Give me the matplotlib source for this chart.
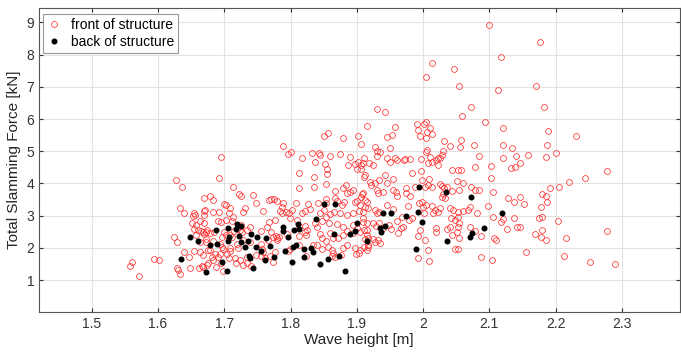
import matplotlib
matplotlib.use("Agg")
import matplotlib.pyplot as plt

plt.rcParams['font.family'] = ['Liberation Sans', 'DejaVu Sans']

# front of structure (wave height [m], total slamming force [kN])
front_h = [
    1.695, 1.789, 1.796, 1.801, 1.818, 1.833, 1.843, 1.844, 1.850, 1.856,
    1.859, 1.874, 1.879, 1.890, 1.902, 1.907, 1.911, 1.916, 2.100, 2.117,
    2.014, 2.047, 2.004, 2.055, 2.113, 1.930, 1.943, 2.072, 2.059, 1.958,
    1.991, 2.005, 2.002, 1.993, 2.010, 2.006, 1.995, 2.013, 2.005, 2.093,
    2.121, 1.953, 1.946, 1.928, 1.931, 1.930, 1.950, 1.935, 2.031, 2.058,
    2.041, 2.056, 2.077, 2.120, 2.134, 2.006, 2.004, 2.030, 2.028, 2.023,
    2.010, 2.084, 2.120, 2.140, 2.159, 1.945, 1.957, 1.973, 1.980, 2.177,
    2.170, 2.183, 2.188, 2.231, 2.187, 2.186, 2.201, 2.146, 2.278, 2.245,
    2.221, 2.205, 2.191, 2.147, 2.179, 2.186, 2.187, 2.152, 2.178, 2.175,
    2.179, 2.203, 2.147, 2.180, 2.278, 2.169, 2.178, 2.185, 2.216, 2.155,
    2.212, 2.252, 2.290, 1.627, 1.637, 1.670, 1.633, 1.640, 1.654, 1.656,
    1.653, 1.671, 1.669, 1.652, 1.658, 1.655, 1.660, 1.668, 1.672, 1.674,
    1.624, 1.628, 1.658, 1.673, 1.640, 1.647, 1.655, 1.676, 1.561, 1.558,
    1.594, 1.602, 1.571, 1.629, 1.630, 1.633, 1.648, 1.662, 1.667, 1.676,
    1.887, 1.898, 1.902, 1.907, 1.900, 1.907, 1.837, 1.852, 1.855, 1.855,
    1.813, 1.692, 1.836, 1.911, 1.713, 1.813, 1.836, 1.854, 1.884, 1.879,
    1.867, 1.885, 1.890, 1.894, 1.908, 1.678, 1.683, 1.699, 1.702, 1.723,
    1.725, 1.748, 1.744, 1.770, 1.775, 1.780, 1.767, 1.788, 1.787, 1.808,
    1.827, 1.841, 1.854, 1.854, 1.867, 1.870, 1.881, 1.877, 1.898, 1.901,
    1.912, 1.670, 1.683, 1.692, 1.709, 1.707, 1.732, 1.729, 1.759, 1.784,
    1.787, 1.793, 1.798, 1.802, 1.817, 1.822, 1.830, 1.844, 1.850, 1.860,
    1.866, 1.874, 1.885, 1.895, 1.903, 1.910, 1.910, 1.663, 1.669, 1.691,
    1.695, 1.702, 1.713, 1.711, 1.725, 1.721, 1.739, 1.735, 1.768, 1.765,
    1.776, 1.799, 1.810, 1.813, 1.822, 1.825, 1.837, 1.840, 1.848, 1.853,
    1.858, 1.870, 1.879, 1.894, 1.901, 1.911, 1.665, 1.669, 1.679, 1.685,
    1.700, 1.697, 1.703, 1.709, 1.712, 1.715, 1.724, 1.727, 1.756, 1.771,
    1.778, 1.780, 1.794, 1.813, 1.822, 1.824, 1.844, 1.847, 1.853, 1.859,
    1.864, 1.871, 1.879, 1.886, 1.894, 1.905, 1.915, 1.663, 1.673, 1.683,
    1.694, 1.697, 1.698, 1.709, 1.708, 1.720, 1.721, 1.729, 1.739, 1.755,
    1.757, 1.759, 1.766, 1.774, 1.782, 1.779, 1.813, 1.834, 1.840, 1.847,
    1.857, 1.864, 1.863, 1.879, 1.885, 1.897, 1.905, 1.911, 1.663, 1.668,
    1.678, 1.681, 1.686, 1.690, 1.694, 1.704, 1.707, 1.716, 1.724, 1.734,
    1.748, 1.755, 1.761, 1.769, 1.776, 1.796, 1.799, 1.823, 1.862, 1.867,
    1.876, 1.899, 1.903, 1.915, 1.917, 1.668, 1.674, 1.683, 1.687, 1.695,
    1.698, 1.718, 1.729, 1.735, 1.740, 1.774, 1.910, 1.919, 1.925, 1.950,
    1.960, 1.971, 1.997, 2.013, 2.020, 2.025, 2.023, 2.008, 1.984, 1.997,
    1.912, 1.942, 1.955, 1.945, 1.934, 1.927, 1.920, 1.922, 1.930, 1.932,
    1.909, 1.916, 1.940, 1.955, 1.959, 1.961, 1.974, 1.975, 1.980, 1.988,
    1.998, 2.009, 2.003, 2.008, 2.013, 2.025, 2.028, 2.032, 2.036, 2.028,
    2.033, 2.030, 2.043, 2.052, 2.058, 2.078, 2.051, 2.060, 2.054, 2.073,
    2.078, 2.085, 2.043, 2.103, 2.139, 2.132, 2.103, 2.106, 2.128, 2.138,
    2.098, 1.907, 1.905, 1.912, 1.917, 1.927, 1.930, 1.934, 1.945, 1.955,
    1.960, 1.968, 1.979, 1.984, 1.978, 1.994, 1.998, 2.000, 2.005, 2.014,
    2.018, 2.023, 2.025, 2.015, 2.001, 2.040, 2.045, 2.053, 2.060, 2.068,
    2.071, 2.082, 2.042, 2.048, 2.052, 2.054, 2.052, 2.106, 2.120, 2.118,
    2.137, 2.127, 2.142, 1.910, 1.915, 1.925, 1.929, 1.934, 1.940, 1.952,
    1.949, 1.962, 1.966, 1.970, 1.993, 1.995, 2.019, 2.020, 2.036, 2.040,
    2.043, 2.054, 2.051, 2.071, 2.078, 2.087, 2.107, 2.110, 1.915, 1.912,
    1.917, 1.925, 1.927, 1.932, 1.935, 1.917, 2.008, 2.048, 2.052, 1.992,
    2.009, 2.088, 2.104, 2.003,
]
front_f = [
    4.83, 5.17, 4.92, 4.97, 4.80, 4.94, 4.94, 4.87, 5.48, 5.56,
    4.84, 4.92, 5.42, 4.81, 5.48, 5.22, 4.78, 5.77, 8.93, 7.94,
    7.75, 7.55, 7.31, 7.03, 6.91, 6.32, 6.22, 6.37, 6.10, 5.75,
    5.85, 5.92, 5.85, 5.67, 5.71, 5.61, 5.48, 5.54, 5.42, 5.90,
    5.72, 5.51, 5.44, 5.14, 5.02, 4.86, 5.09, 4.98, 5.31, 5.34,
    5.16, 5.13, 5.20, 5.20, 5.09, 5.05, 4.98, 5.01, 4.87, 4.79,
    4.82, 4.86, 4.79, 4.86, 4.89, 4.79, 4.79, 4.77, 4.75, 8.38,
    7.03, 6.36, 5.62, 5.48, 5.18, 4.83, 4.94, 4.64, 4.38, 4.16,
    4.03, 3.88, 3.85, 3.59, 3.67, 3.60, 3.41, 3.35, 3.28, 2.92,
    2.97, 2.83, 2.65, 2.55, 2.52, 2.43, 2.34, 2.24, 2.30, 1.88,
    1.74, 1.56, 1.51, 4.12, 3.89, 3.56, 3.24, 3.08, 3.08, 3.02,
    2.98, 3.17, 3.01, 2.76, 2.71, 2.59, 2.55, 2.48, 2.50, 2.55,
    2.33, 2.19, 2.40, 2.19, 1.86, 1.70, 1.91, 1.93, 1.57, 1.44,
    1.65, 1.63, 1.13, 1.38, 1.32, 1.18, 1.36, 1.38, 1.43, 1.52,
    4.57, 4.60, 4.66, 4.57, 4.46, 4.44, 4.66, 4.59, 4.44, 4.28,
    4.31, 4.17, 4.21, 4.21, 3.89, 3.87, 3.90, 3.97, 3.95, 3.85,
    3.77, 3.69, 3.74, 3.80, 3.66, 3.61, 3.48, 3.35, 3.33, 3.66,
    3.62, 3.38, 3.65, 3.52, 3.52, 3.46, 3.48, 3.38, 3.28, 3.40,
    3.35, 3.38, 3.51, 3.40, 3.56, 3.44, 3.43, 3.33, 3.41, 3.46,
    3.48, 3.14, 3.12, 3.11, 3.23, 3.09, 3.23, 3.10, 3.14, 3.15,
    3.07, 3.12, 3.07, 3.17, 3.09, 3.15, 3.20, 3.07, 3.17, 3.05,
    3.11, 3.07, 3.02, 3.07, 3.15, 3.12, 2.92, 2.83, 2.76, 2.83,
    2.81, 2.86, 2.95, 2.84, 2.71, 2.66, 2.65, 2.56, 2.79, 2.66,
    2.86, 2.92, 2.86, 2.68, 2.68, 2.56, 2.76, 2.64, 2.83, 2.97,
    2.76, 2.74, 2.64, 2.71, 2.61, 2.55, 2.51, 2.43, 2.45, 2.50,
    2.49, 2.33, 2.40, 2.40, 2.33, 2.53, 2.55, 2.49, 2.51, 2.49,
    2.37, 2.30, 2.44, 2.38, 2.50, 2.40, 2.43, 2.30, 2.22, 2.47,
    2.30, 2.30, 2.40, 2.52, 2.46, 2.48, 2.55, 2.19, 2.26, 2.22,
    2.12, 2.03, 1.97, 2.00, 1.91, 2.12, 1.98, 2.24, 2.19, 2.12,
    1.97, 1.86, 2.24, 2.33, 2.34, 2.24, 2.09, 2.08, 2.09, 1.95,
    2.03, 1.83, 1.93, 1.98, 2.09, 1.98, 1.93, 2.02, 1.88, 1.77,
    1.93, 1.70, 1.81, 1.72, 1.81, 1.81, 1.67, 1.69, 1.62, 1.70,
    1.78, 1.75, 1.67, 1.75, 1.88, 1.90, 1.96, 1.75, 1.75, 1.70,
    1.78, 1.80, 1.85, 1.93, 2.03, 1.41, 1.47, 1.62, 1.39, 1.52,
    1.29, 1.52, 1.47, 1.54, 1.44, 1.57, 4.64, 4.64, 4.57, 4.67,
    4.73, 4.73, 4.75, 4.67, 4.73, 4.78, 4.57, 4.62, 4.33, 4.39,
    4.26, 4.26, 4.13, 4.00, 4.11, 4.00, 4.05, 3.95, 3.80, 3.71,
    3.69, 3.43, 3.74, 3.80, 3.72, 3.62, 3.85, 3.69, 3.62, 3.90,
    4.11, 4.13, 3.90, 3.95, 3.90, 3.98, 3.92, 3.87, 3.90, 3.59,
    3.54, 3.66, 4.42, 4.42, 4.42, 4.50, 4.08, 4.00, 3.80, 3.88,
    3.80, 3.80, 3.76, 4.54, 4.52, 4.49, 4.16, 3.72, 3.56, 3.43,
    3.30, 3.59, 3.33, 3.28, 3.23, 3.17, 3.07, 3.12, 3.33, 3.20,
    2.84, 2.97, 2.86, 2.92, 3.31, 3.38, 3.43, 3.28, 3.33, 3.30,
    3.17, 3.12, 3.23, 3.07, 3.07, 3.25, 3.17, 3.12, 3.14, 3.17,
    3.28, 3.07, 2.92, 2.86, 2.97, 2.76, 2.66, 2.97, 2.89, 2.81,
    2.93, 2.57, 2.64, 2.81, 2.76, 2.76, 2.68, 2.76, 2.61, 2.58,
    2.71, 2.45, 2.61, 2.66, 2.37, 2.55, 2.61, 2.50, 2.58, 2.64,
    2.40, 2.30, 2.50, 2.64, 2.51, 2.37, 2.30, 2.24, 2.40, 2.26,
    2.30, 2.26, 2.19, 2.24, 2.16, 2.09, 1.93, 1.96, 1.96, 1.69,
    1.59, 1.72, 1.62, 2.24,
]

# back of structure
back_h = [
    1.648, 1.661, 1.634, 1.672, 1.678, 1.687, 1.689, 1.697, 1.704, 1.707,
    1.706, 1.706, 1.717, 1.720, 1.726, 1.722, 1.726, 1.731, 1.736, 1.740,
    1.750, 1.738, 1.739, 1.744, 1.748, 1.756, 1.763, 1.769, 1.761, 1.775,
    1.789, 1.789, 1.796, 1.792, 1.804, 1.809, 1.803, 1.811, 1.813, 1.806,
    1.820, 1.831, 1.834, 1.820, 1.838, 1.844, 1.851, 1.867, 1.857, 1.866,
    1.873, 1.882, 1.890, 1.897, 1.901, 1.916, 1.935, 1.936, 1.942, 1.940,
    1.952, 1.974, 1.992, 1.999, 1.994, 1.989, 2.035, 2.036, 2.072, 2.071,
    2.074, 2.092, 2.119,
]
back_f = [
    2.33, 2.20, 1.66, 1.26, 2.09, 2.55, 2.11, 1.57, 1.28, 2.34,
    2.21, 2.61, 2.57, 2.74, 2.69, 2.37, 2.18, 2.02, 2.22, 2.43,
    2.33, 1.75, 1.67, 1.36, 2.02, 1.91, 2.30, 2.06, 1.62, 1.72,
    2.66, 2.52, 2.33, 1.90, 2.03, 2.09, 1.57, 2.74, 2.59, 2.55,
    1.97, 1.98, 1.88, 1.70, 2.89, 1.50, 3.36, 3.36, 1.65, 2.42,
    1.75, 1.29, 2.42, 2.52, 2.78, 2.22, 2.61, 2.48, 2.68, 3.09,
    3.07, 2.98, 3.10, 2.79, 3.89, 1.97, 3.73, 2.20, 3.57, 2.34,
    2.47, 2.62, 3.07,
]

fig = plt.figure(figsize=(6.81, 3.54), dpi=100)
ax = fig.add_axes([0.0573, 0.1195, 0.9405, 0.857])

ax.plot(front_h, front_f, 'o', mfc='none', mec='#ff3030', mew=0.55, ms=4.2,
        label='front of structure', zorder=3)
ax.plot(back_h, back_f, 'o', mfc='black', mec='black', ms=3.3,
        label='back of structure', zorder=4)

ax.set_xlim(1.4205, 2.387)
ax.set_ylim(0.016, 9.44)
ax.set_xticks([1.5, 1.6, 1.7, 1.8, 1.9, 2.0, 2.1, 2.2, 2.3])
ax.set_xticklabels(['1.5', '1.6', '1.7', '1.8', '1.9', '2', '2.1', '2.2', '2.3'])
ax.set_yticks(range(1, 10))

ax.grid(True, color='#e3e3e3', linewidth=0.8)
ax.set_axisbelow(True)
ax.tick_params(direction='in', length=3, top=True, right=True,
               labelsize=10, colors='#333333', width=0.8)
for s in ax.spines.values():
    s.set_color('#555555')
    s.set_linewidth(0.8)

ax.set_xlabel('Wave height [m]', fontsize=11, color='#262626', labelpad=2)
ax.set_ylabel('Total Slamming Force [kN]', fontsize=11, color='#262626', labelpad=4)

leg = ax.legend(loc='upper left', bbox_to_anchor=(0.006, 0.982), fontsize=10,
                fancybox=False, framealpha=1, edgecolor='#999999',
                handlelength=1.0, handletextpad=0.7, borderpad=0.3,
                labelspacing=0.2, borderaxespad=0)
leg.get_frame().set_linewidth(0.8)

fig.savefig('out.png', dpi=100)
